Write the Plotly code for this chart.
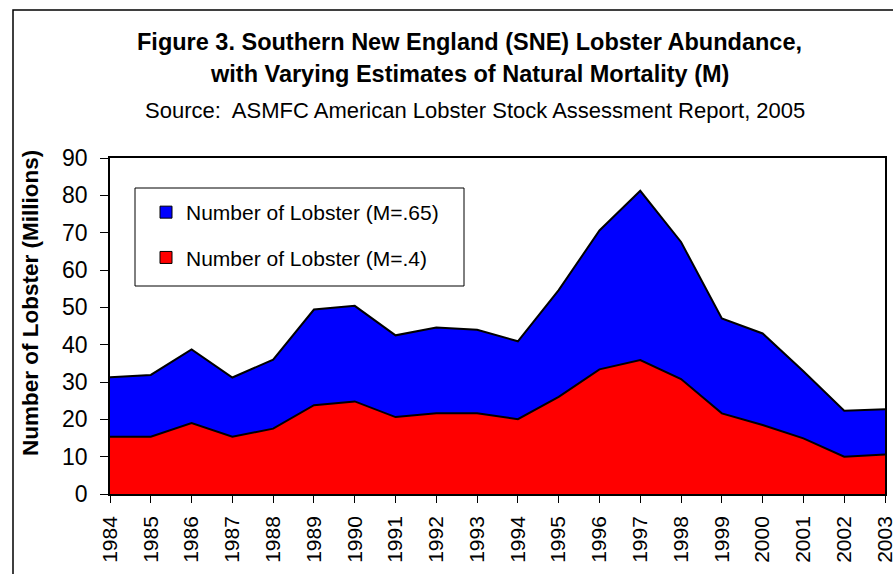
import plotly.graph_objects as go

years = list(range(1984, 2004))
lobster_m065 = [31.3, 31.9, 38.7, 31.2, 36.0, 49.4, 50.4, 42.5, 44.6, 44.0,
                40.9, 54.6, 70.6, 81.2, 67.5, 47.0, 43.0, 32.9, 22.3, 22.7]
lobster_m04 = [15.35, 15.35, 19.0, 15.35, 17.5, 23.8, 24.8, 20.6, 21.6, 21.6,
               20.05, 26.0, 33.4, 35.9, 30.8, 21.6, 18.5, 14.9, 10.0, 10.6]
series_names = ["Number of Lobster (M=.65)", "Number of Lobster (M=.4)"]
series_colors = ["#0000FF", "#FF0000"]
y_ticks = list(range(0, 100, 10))

FONT = "Liberation Sans, Arial, sans-serif"
W, H = 893, 574
L, R, T, B = 110, 8, 158, 80
pw, ph = W - L - R, H - T - B

def px(x):
    return (x - L) / pw

def py(y):
    return (H - B - y) / ph

fig = go.Figure()
for vals, name, col in [(lobster_m065, series_names[0], series_colors[0]),
                        (lobster_m04, series_names[1], series_colors[1])]:
    fig.add_trace(go.Scatter(
        x=years, y=vals, name=name, mode="lines", fill="tozeroy",
        fillcolor=col, line=dict(color="black", width=2), showlegend=False))
# legend entries (square swatches like the original)
for i, (name, col) in enumerate(zip(series_names, series_colors)):
    fig.add_trace(go.Bar(x=[None], y=[None], name=name,
                         marker=dict(color=col, line=dict(color="black", width=1)),
                         legendgroup=str(i)))

fig.update_layout(
    width=W, height=H,
    margin=dict(l=L, r=R, t=T, b=B),
    paper_bgcolor="white", plot_bgcolor="white",
    font=dict(family=FONT, color="black"),
    showlegend=True,
    legend=dict(x=px(146), y=py(192), xanchor="left", yanchor="top",
                borderwidth=0, bgcolor="rgba(0,0,0,0)",
                font=dict(size=21, family=FONT), tracegroupgap=15,
                traceorder="grouped"),
    xaxis=dict(range=[1984, 2003], tickvals=years, ticktext=[str(y) for y in years],
               tickangle=-90, ticks="outside", ticklen=7, tickcolor="black",
               showline=True, linecolor="black", linewidth=1.5, mirror=True,
               showgrid=False, zeroline=False, automargin=False,
               ticklabeloverflow="allow", ticklabelstandoff=5,
               tickfont=dict(size=21, family=FONT)),
    yaxis=dict(range=[0, 90], tickvals=y_ticks, ticks="outside", ticklen=8,
               tickcolor="black", showline=True, linecolor="black", linewidth=1.5,
               mirror=True, showgrid=False, zeroline=False, automargin=False,
               ticklabelstandoff=8,
               tickfont=dict(size=23, family=FONT)),
)

fig.add_annotation(text="<b>Figure 3. Southern New England (SNE) Lobster Abundance,</b>",
                   xref="paper", yref="paper", x=px(469), y=py(42), showarrow=False,
                   xanchor="center", yanchor="middle", font=dict(size=23.5, family=FONT))
fig.add_annotation(text="<b>with Varying Estimates of Natural Mortality (M)</b>",
                   xref="paper", yref="paper", x=px(469), y=py(74), showarrow=False,
                   xanchor="center", yanchor="middle", font=dict(size=23.5, family=FONT))
fig.add_annotation(text="Source:  ASMFC American Lobster Stock Assessment Report, 2005",
                   xref="paper", yref="paper", x=px(475), y=py(110), showarrow=False,
                   xanchor="center", yanchor="middle", font=dict(size=22, family=FONT))
fig.add_annotation(text="<b>Number of Lobster (Millions)</b>",
                   xref="paper", yref="paper", x=px(30), y=py(303), showarrow=False,
                   textangle=-90, xanchor="center", yanchor="middle",
                   font=dict(size=22.5, family=FONT))

# outer chart frame
fig.add_shape(type="rect", xref="paper", yref="paper",
              x0=px(13), x1=px(900), y0=py(600), y1=py(10),
              line=dict(color="black", width=1.5), fillcolor="rgba(0,0,0,0)", layer="below")
# legend box
fig.add_shape(type="rect", xref="paper", yref="paper",
              x0=px(135), x1=px(464), y0=py(286), y1=py(188),
              line=dict(color="black", width=1), fillcolor="white", layer="above")

fig.write_html(
    "out.html",
    config={"displayModeBar": False},
    post_script="document.body.style.margin='0';document.body.style.overflow='hidden';",
)
